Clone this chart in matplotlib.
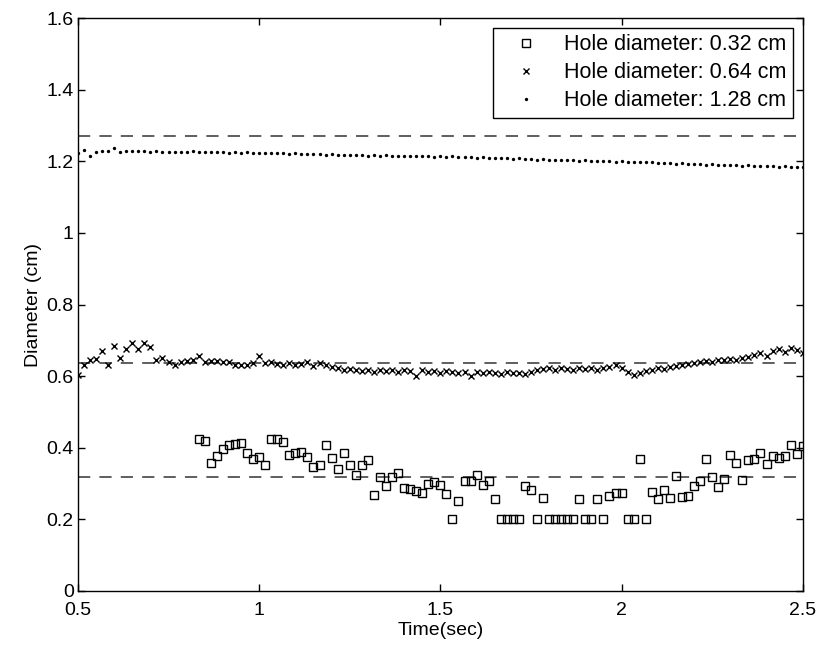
import numpy as np
import matplotlib

matplotlib.use("Agg")
import matplotlib.pyplot as plt
from matplotlib.ticker import FuncFormatter

plt.rcParams["font.family"] = ["Liberation Sans", "DejaVu Sans"]

# sampling grid: video frames at 60 fps from t = 0.5 s
frame_rate = 60
n_frames = 121
t = 0.5 + np.arange(n_frames) / frame_rate

# 0.32 cm hole: tracked only from frame 20 onwards
small_start = 20
small_d = [
    0.425, 0.420, 0.357, 0.377, 0.396, 0.408, 0.410, 0.413, 0.385, 0.368,
    0.374, 0.352, 0.424, 0.424, 0.416, 0.381, 0.385, 0.387, 0.374, 0.346,
    0.352, 0.408, 0.372, 0.342, 0.384, 0.352, 0.325, 0.352, 0.365, 0.269,
    0.318, 0.294, 0.318, 0.330, 0.288, 0.285, 0.280, 0.275, 0.300, 0.305,
    0.296, 0.272, 0.200, 0.251, 0.307, 0.307, 0.324, 0.296, 0.307, 0.258,
    0.200, 0.200, 0.200, 0.200, 0.293, 0.283, 0.200, 0.259, 0.200, 0.200,
    0.200, 0.200, 0.200, 0.257, 0.200, 0.200, 0.257, 0.200, 0.266, 0.275,
    0.275, 0.200, 0.200, 0.368, 0.200, 0.277, 0.257, 0.281, 0.259, 0.321,
    0.262, 0.264, 0.292, 0.308, 0.368, 0.319, 0.291, 0.313, 0.379, 0.357,
    0.310, 0.366, 0.370, 0.385, 0.355, 0.378, 0.372, 0.378, 0.407, 0.383,
    0.404,
]

medium_d = [
    0.602, 0.632, 0.646, 0.648, 0.669, 0.632, 0.685, 0.651, 0.676, 0.693,
    0.676, 0.693, 0.682, 0.646, 0.651, 0.639, 0.632, 0.639, 0.642, 0.646,
    0.657, 0.639, 0.642, 0.642, 0.640, 0.640, 0.632, 0.630, 0.630, 0.636,
    0.655, 0.636, 0.640, 0.634, 0.632, 0.638, 0.630, 0.634, 0.640, 0.628,
    0.636, 0.632, 0.626, 0.622, 0.618, 0.620,
    0.618, 0.614, 0.616, 0.612, 0.616, 0.614, 0.618, 0.612, 0.616, 0.614,
    0.600,
    0.616, 0.612, 0.614, 0.610, 0.614, 0.612, 0.608, 0.612,
    0.600,
    0.612, 0.608, 0.612, 0.610, 0.606, 0.612, 0.608, 0.610, 0.606, 0.612,
    0.616, 0.620, 0.622, 0.618, 0.622, 0.620, 0.618, 0.622, 0.620, 0.624,
    0.618, 0.622, 0.626, 0.632, 0.624,
    0.612, 0.604,
    0.610, 0.614, 0.618, 0.622, 0.620, 0.626, 0.628, 0.632,
    0.634, 0.638, 0.640, 0.642, 0.640, 0.644, 0.646, 0.648, 0.646, 0.650,
    0.654, 0.658, 0.664, 0.656, 0.670, 0.676, 0.668, 0.680, 0.674, 0.666,
]

large_d = [
    1.224, 1.232, 1.214, 1.226, 1.228, 1.230, 1.236, 1.226, 1.228, 1.228,
    1.230,
    1.228, 1.227, 1.228, 1.227, 1.226, 1.227, 1.226, 1.227, 1.228, 1.226,
    1.225, 1.226, 1.225, 1.226, 1.224, 1.225, 1.224, 1.225, 1.223, 1.224,
    1.223, 1.224, 1.222, 1.223, 1.221, 1.222, 1.220, 1.221, 1.220, 1.221,
    1.219, 1.220, 1.218, 1.219, 1.218, 1.217, 1.218, 1.216, 1.217, 1.216,
    1.217, 1.215, 1.216, 1.214, 1.215, 1.216, 1.214, 1.215, 1.213, 1.214,
    1.213, 1.214, 1.212, 1.211, 1.212, 1.210, 1.211, 1.209, 1.210, 1.208,
    1.209, 1.207, 1.208, 1.206, 1.207, 1.205, 1.206, 1.204, 1.205, 1.203,
    1.204, 1.205, 1.202, 1.203, 1.201, 1.202, 1.200, 1.201, 1.199, 1.200,
    1.199, 1.198, 1.199, 1.197, 1.198, 1.196, 1.195, 1.196, 1.194, 1.195,
    1.193, 1.194, 1.192, 1.190, 1.192, 1.190, 1.191, 1.189, 1.190, 1.188,
    1.189, 1.187, 1.188, 1.186, 1.187, 1.185, 1.186, 1.184, 1.185, 1.184,
]

# nominal hole diameters (dashed references)
ref_d = [0.318, 0.638, 1.272]
labels = [
    "Hole diameter: 0.32 cm",
    "Hole diameter: 0.64 cm",
    "Hole diameter: 1.28 cm",
]

fig = plt.figure(figsize=(8.2, 6.48), dpi=100)
ax = fig.add_axes([0.095, 0.088, 0.884, 0.884])

ax.plot(t[small_start:], small_d, ls="none", marker="s", ms=5.2,
        mfc="none", mec="black", mew=1.0, label=labels[0])
ax.plot(t, medium_d, ls="none", marker="x", ms=5, mec="black",
        mew=1.0, label=labels[1])
ax.plot(t, large_d, ls="none", marker=".", ms=2.8, color="black",
        label=labels[2])

for r in ref_d:
    ax.axhline(r, color="#333333", lw=1.1, dashes=(8, 6), zorder=1)

ax.set_xlim(0.5, 2.5)
ax.set_ylim(0, 1.6)
ax.set_xticks([0.5, 1, 1.5, 2, 2.5])
ax.set_yticks(np.arange(0, 1.61, 0.2))
fmt = FuncFormatter(lambda v, _: f"{v:g}")
ax.xaxis.set_major_formatter(fmt)
ax.yaxis.set_major_formatter(fmt)
ax.tick_params(direction="in", top=True, right=True, length=5, width=1,
               labelsize=14, pad=3)
ax.tick_params(axis="x", pad=8)
for s in ax.spines.values():
    s.set_linewidth(1.0)
    s.set_color("black")

ax.set_xlabel("Time(sec)", fontsize=14, labelpad=2)
ax.set_ylabel("Diameter (cm)", fontsize=14, labelpad=3)

leg = ax.legend(loc="upper right", fontsize=15.5, markerscale=1.0,
                handlelength=2.4, handletextpad=0.6, borderpad=0.3,
                labelspacing=0.33, borderaxespad=0.45, fancybox=False,
                framealpha=1, edgecolor="black")
leg.get_frame().set_linewidth(1.0)

fig.savefig("out.png", dpi=100)
